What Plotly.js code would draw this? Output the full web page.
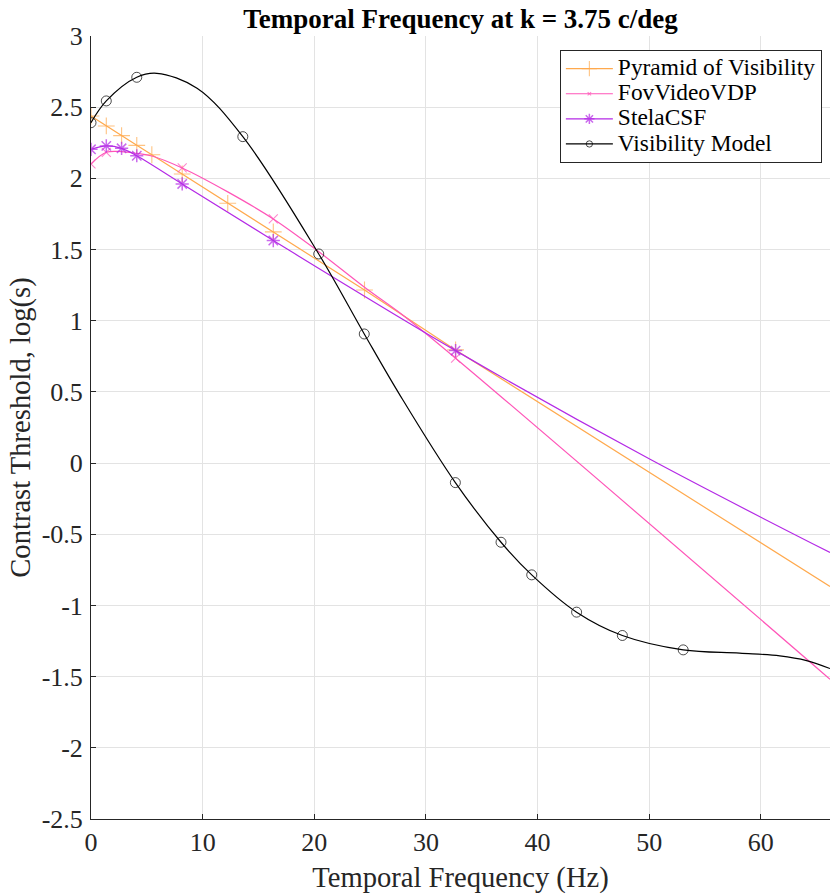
<!DOCTYPE html>
<html>
<head>
<meta charset="utf-8">
<script src="https://cdn.plot.ly/plotly-3.0.1.min.js"></script>
<style>html,body{margin:0;padding:0;background:#fff}#chart{width:830px;height:895px}</style>
</head>
<body>
<div id="chart"></div>
<script>
// ---- data ----
const tfPyr = [0, 1.37, 2.74, 4.1, 5.45, 8.17, 12.25, 16.33, 24.5, 32.66, 66.2];
const pyr   = [2.438, 2.368, 2.30, 2.232, 2.166, 2.031, 1.825, 1.624, 1.216, 0.795, -0.867];
const pyrMarked = [0,1,2,3,4,5,6,7,8,9];

const tfFov = [0, 1.37, 2.74, 4.1, 5.45, 8.17, 12.25, 16.33, 20.2, 24.5, 28.0, 32.66, 66.2];
const fov   = [2.101, 2.183, 2.188, 2.175, 2.157, 2.073, 1.905, 1.715, 1.497, 1.235, 1.035, 0.737, -1.518];
const fovMarked = [0,1,5,7,11];

const tfStela = [0, 1.37, 2.74, 4.1, 8.17, 16.33, 32.66, 50, 66.2];
const stela   = [2.204, 2.228, 2.211, 2.159, 1.961, 1.563, 0.79, 0.03, -0.628];
const stelaMarked = [0,1,2,3,4,5,6];

const tfVis = [0, 1.37, 4.1, 5.9, 9.5, 13.6, 20.4, 24.48, 27.7, 32.64, 36.73, 39.48, 43.5, 47.6, 53.05, 58.1, 61.7, 64.1, 66.2];
const vis   = [2.391, 2.544, 2.71, 2.738, 2.633, 2.293, 1.469, 0.907, 0.474, -0.137, -0.556, -0.785, -1.047, -1.211, -1.312, -1.335, -1.354, -1.387, -1.443];
const visMarked = [0,1,2,5,6,7,9,10,11,12,13,14];

const names = ["Pyramid of Visibility", "FovVideoVDP", "StelaCSF", "Visibility Model"];
const xTicks = [0, 10, 20, 30, 40, 50, 60];
const yTicks = [-2.5, -2, -1.5, -1, -0.5, 0, 0.5, 1, 1.5, 2, 2.5, 3];
const yTickText = ["-2.5", "-2", "-1.5", "-1", "-0.5", "0", "0.5", "1", "1.5", "2", "2.5", "3"];

// ---- styling ----
const FONT = "Liberation Serif, Times New Roman, serif";
function sizes(n, marked, s) {
  const a = new Array(n).fill(0);
  marked.forEach(i => a[i] = s);
  return a;
}
function mk(x, y, name, color, symbol, size, marked, shape, mlw) {
  return {
    x: x, y: y,
    name: '<span style="font-size:23.4px">' + name + '</span>',
    type: "scatter", mode: "lines+markers",
    line: {color: color, width: 1.2, shape: shape, smoothing: 1},
    marker: {symbol: symbol, size: sizes(x.length, marked, size), color: color,
             line: {color: color, width: mlw}},
    hoverinfo: "x+y"
  };
}

const traces = [
  mk(tfPyr, pyr, names[0], "#FFA94D", "cross-thin-open", 12, pyrMarked, "linear", 1.1),
  mk(tfFov, fov, names[1], "#FF55B8", "x-thin-open", 9, fovMarked, "spline", 1.1),
  mk(tfStela, stela, names[2], "#B42AE6", "asterisk-open", 11, stelaMarked, "spline", 1.5),
  mk(tfVis, vis, names[3], "#000000", "circle-open", 10, visMarked, "spline", 1)
];

const axisCommon = {
  showline: true, linecolor: "#262626", linewidth: 1,
  showgrid: true, gridcolor: "#e3e3e3", gridwidth: 1,
  zeroline: false, ticks: "inside", ticklen: 5, tickcolor: "#262626",
  tickfont: {family: FONT, size: 26, color: "#262626"},
  mirror: false, automargin: false
};

const layout = {
  width: 830, height: 895,
  margin: {l: 91, r: 0, t: 36, b: 76, pad: 0},
  paper_bgcolor: "#ffffff", plot_bgcolor: "#ffffff",
  font: {family: FONT, color: "#262626"},
  title: {text: "<b>Temporal Frequency at k = 3.75 c/deg</b>",
          font: {family: FONT, size: 27, color: "#000000"},
          xref: "paper", x: 0.5, xanchor: "center",
          yref: "container", y: 0.979, yanchor: "middle"},
  xaxis: Object.assign({}, axisCommon, {
    range: [0, 66.2], tickvals: xTicks, ticktext: xTicks.map(String),
    title: {text: "Temporal Frequency (Hz)", font: {family: FONT, size: 28.6, color: "#262626"}, standoff: 10}
  }),
  yaxis: Object.assign({}, axisCommon, {
    range: [-2.5, 3], tickvals: yTicks, ticktext: yTickText, ticklabelstandoff: 2,
    title: {text: "Contrast Threshold, log(s)", font: {family: FONT, size: 28.6, color: "#262626"}, standoff: 2}
  }),
  showlegend: true,
  legend: {
    x: 0.989, y: 0.982, xanchor: "right", yanchor: "top",
    bgcolor: "#ffffff", bordercolor: "#262626", borderwidth: 1,
    font: {family: FONT, size: 17, color: "#000000"},
    tracegroupgap: 0, itemwidth: 47
  }
};

Plotly.newPlot("chart", traces, layout, {displayModeBar: false, staticPlot: true});
</script>
</body>
</html>
